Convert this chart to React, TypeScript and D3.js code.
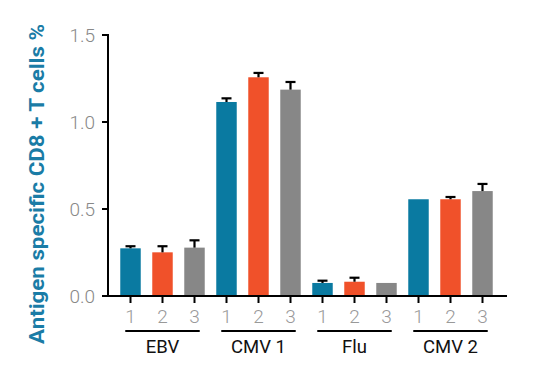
import React from "react";
import * as d3 from "d3";

const groups = ["EBV", "CMV 1", "Flu", "CMV 2"];
const conditions = ["1", "2", "3"];
const values = [
  [0.274, 0.251, 0.278],
  [1.115, 1.257, 1.186],
  [0.075, 0.082, 0.075],
  [0.556, 0.556, 0.603],
];
const errors = [
  [0.012, 0.035, 0.042],
  [0.021, 0.025, 0.044],
  [0.013, 0.023, 0],
  [0, 0.013, 0.041],
];
const colors = ["#0a7aa1", "#f0512a", "#878787"];
const yTicks = [0, 0.5, 1.0, 1.5];

export default function App() {
  const W = 534, H = 377;
  const axisX = 108, axisRight = 507;
  const y = d3.scaleLinear().domain([0, 1.5]).range([296, 35]);
  const keys = groups.flatMap((g, gi) => conditions.map((c, ci) => `${gi}-${ci}`));
  const x = d3.scaleBand<string>().domain(keys).range([114.5, 498.5]).paddingInner(0.36).paddingOuter(0.18);
  const bw = x.bandwidth();
  const font = "Roboto, 'Liberation Sans', sans-serif";
  return (
    <svg width={W} height={H} style={{ position: "absolute", left: 0, top: 0 }}>
      <rect width={W} height={H} fill="#fff" />
      {groups.map((g, gi) =>
        conditions.map((c, ci) => {
          const k = `${gi}-${ci}`;
          const v = values[gi][ci];
          const e = errors[gi][ci];
          const x0 = x(k)!;
          const cx = x0 + bw / 2;
          return (
            <g key={k}>
              <rect x={x0} y={y(v)} width={bw} height={y(0) - y(v)} fill={colors[ci]} />
              {e > 0 && (
                <g stroke="#000" strokeWidth={2.2}>
                  <line x1={cx} x2={cx} y1={y(v)} y2={y(v + e)} />
                  <line x1={cx - 5} x2={cx + 5} y1={y(v + e)} y2={y(v + e)} />
                </g>
              )}
              <line x1={cx} x2={cx} y1={296} y2={303} stroke="#000" strokeWidth={2} />
              <text x={cx} y={323} textAnchor="middle" fontFamily={font} fontWeight={300} fontSize={19} fill="#999">{c}</text>
            </g>
          );
        })
      )}
      {groups.map((g, gi) => {
        const xa = x(`${gi}-0`)!;
        const xb = x(`${gi}-2`)! + bw;
        return (
          <g key={g}>
            <line x1={xa + 5} x2={xb - 5} y1={331} y2={331} stroke="#000" strokeWidth={2} />
            <text x={(xa + xb) / 2} y={353} textAnchor="middle" fontFamily={font} fontSize={18.5} fill="#111">{g}</text>
          </g>
        );
      })}
      <line x1={axisX} x2={axisRight} y1={296} y2={296} stroke="#000" strokeWidth={2} />
      <line x1={axisX} x2={axisX} y1={34} y2={297} stroke="#000" strokeWidth={2} />
      {yTicks.map((t) => (
        <g key={t}>
          <line x1={102} x2={axisX} y1={y(t)} y2={y(t)} stroke="#000" strokeWidth={2} />
          <text x={95} y={y(t)} dy="0.36em" textAnchor="end" fontFamily={font} fontWeight={300} fontSize={19} fill="#888">{d3.format(".1f")(t)}</text>
        </g>
      ))}
      <text transform={`translate(44,184) rotate(-90)`} textAnchor="middle" fontFamily={font} fontWeight={700} fontSize={20} textLength={320} lengthAdjust="spacingAndGlyphs" fill="#1a7ca6">Antigen specific CD8 + T cells %</text>
    </svg>
  );
}
